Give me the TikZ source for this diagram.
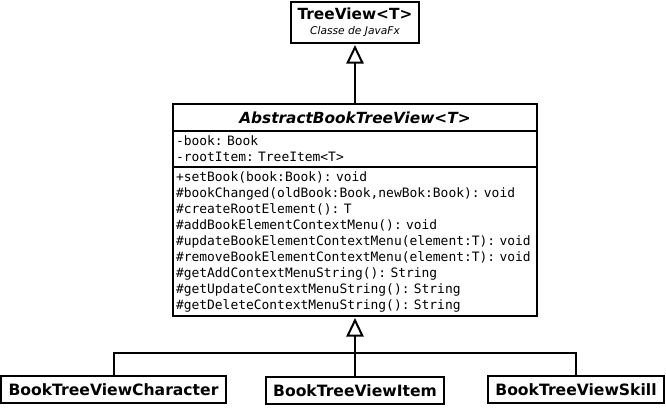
\documentclass[tikz,border=0pt]{standalone}
\usepackage{fontspec}
\setmainfont{DejaVu Sans}
\setmonofont{DejaVu Sans Mono}
\usetikzlibrary{arrows.meta}

\tikzset{every picture/.style={line width=1.5pt},
  umlbox/.style={draw, rectangle, inner sep=0.75pt, outer sep=0pt, minimum height=20.25pt, font=\fontsize{11.7}{14}\selectfont\bfseries},
  umlpart/.style={draw, rectangle, anchor=north, inner xsep=2.25pt, inner ysep=0.75pt, outer sep=0pt, text width=268.5pt, minimum width=273pt, align=left, font=\fontsize{9.7}{12}\selectfont\ttfamily\frenchspacing},
  inherit/.style={-{Triangle[open,length=14pt,width=13pt]}, shorten >=1.5pt}}

\begin{document}
\begin{tikzpicture}[x=0.75pt,y=0.75pt,yscale=-1,xscale=1]
\useasboundingbox (0,0) rectangle (666,407);

%Shape: Rectangle [id:treeview]
\node (treeview) at (355,22.5) [draw, rectangle, inner sep=0.75pt, outer sep=0pt, minimum width=96pt, minimum height=30.75pt, align=center, font=\fontsize{8}{11.5}\selectfont] {{\fontsize{11.5}{12}\selectfont\bfseries TreeView<T>}\\\itshape Classe de JavaFx};

%Shape: Rectangle [id:abstitle]
\node (abstitle) at (355,117.5) [umlbox, minimum width=273pt, font=\fontsize{11.5}{14}\selectfont\bfseries\itshape] {AbstractBookTreeView<T>};
%Shape: Rectangle [id:absattr]
\node (absattr) at (abstitle.south) [umlpart, minimum height=27pt] {-book: Book\\-rootItem: TreeItem<T>};
%Shape: Rectangle [id:absmeth]
\node (absmeth) at (absattr.south) [umlpart, minimum height=111.75pt] {+setBook(book:Book): void\\
\#bookChanged(oldBook:Book,newBok:Book): void\\
\#createRootElement(): T\\
\#addBookElementContextMenu(): void\\
\#updateBookElementContextMenu(element:T): void\\
\#removeBookElementContextMenu(element:T): void\\
\#getAddContextMenuString(): String\\
\#getUpdateContextMenuString(): String\\
\#getDeleteContextMenuString(): String};

%Shape: Rectangle [id:charbox]
\node (charbox) at (113.5,389.5) [umlbox, minimum width=168.75pt] {BookTreeViewCharacter};
%Shape: Rectangle [id:itembox]
\node (itembox) at (355,390.5) [umlbox, minimum width=133.5pt] {BookTreeViewItem};
%Shape: Rectangle [id:skillbox]
\node (skillbox) at (576,389.5) [umlbox, minimum width=132pt] {BookTreeViewSkill};

\coordinate (bus) at (355,353);

%Straight Lines [id:toTreeView]
\draw [inherit] (abstitle.north) -- (treeview.south);
%Straight Lines [id:toAbstract]
\draw [inherit] (itembox.north) -- (absmeth.south);
\draw (charbox.north) |- (bus) -| (skillbox.north);

\end{tikzpicture}
\end{document}
